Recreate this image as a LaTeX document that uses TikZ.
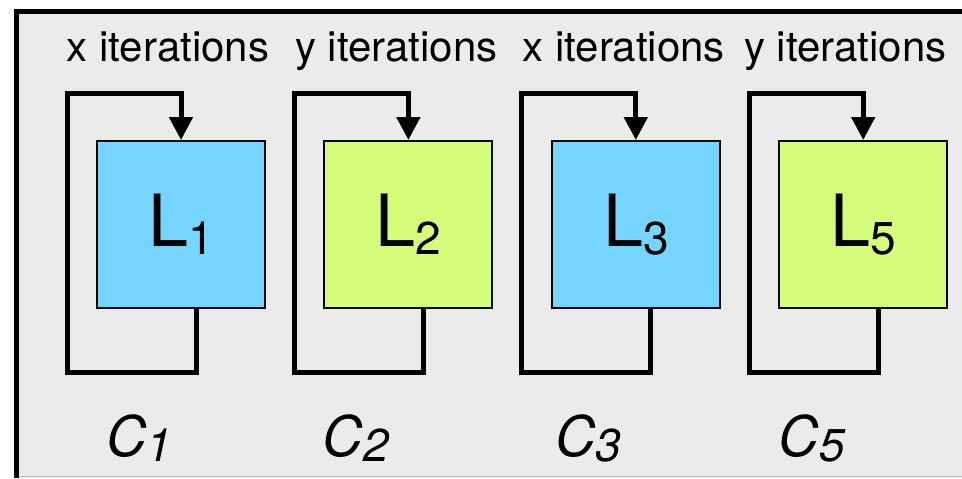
\documentclass[tikz,border=0pt]{standalone}
\usepackage{fontspec}
\setmainfont{TeX Gyre Heros}
\usetikzlibrary{arrows.meta, calc, positioning}

\definecolor{panelgray}{HTML}{EBEBEB}
\definecolor{loopblue}{HTML}{75D5FF}
\definecolor{loopgreen}{HTML}{D4FC7A}

% letter with a lowered, smaller index
\newcommand{\lsub}[3]{#1\raisebox{-#3}{\fontsize{23}{23}\selectfont #2}}

\begin{document}
\begin{tikzpicture}[x=0.5pt, y=0.5pt, node distance=28.7pt,
    layerbox/.style={draw=black, line width=1pt, minimum width=84pt, minimum height=83.5pt,
        inner sep=0pt, font=\fontsize{36}{36}\selectfont},
    feedback/.style={line width=2.5pt, line join=miter,
        -{Triangle[width=11.5pt,length=11.5pt]}},
    iters/.style={anchor=base, inner sep=0pt, font=\fontsize{21}{21}\selectfont},
    cname/.style={anchor=base west, inner sep=0pt, font=\fontsize{28}{28}\selectfont\itshape}]
            \useasboundingbox (0,0) rectangle (962,478);

            % Gray panel with its heavy left and top edge
            \fill[panelgray] (16.5,0) rectangle (962,466.5);
            \draw[black!25, line width=0.5pt] (16.5,1.3) -- (962,1.3);
            \draw[line width=2.5pt, line join=miter] (16.5,0) -- (16.5,466.5) -- (962,466.5);

            % The four loop bodies
            \node (L1) [layerbox, fill=loopblue] at (181,253.5) {\lsub{L}{1}{0.11em}};
            \node (L2) [layerbox, fill=loopgreen, right=of L1] {\lsub{L}{2}{0.11em}};
            \node (L3) [layerbox, fill=loopblue, right=of L2] {\lsub{L}{3}{0.11em}};
            \node (L5) [layerbox, fill=loopgreen, right=of L3] {\lsub{L}{5}{0.11em}};

            % Back edges: out of the bottom, round the left side, into the top
            \draw[feedback] ($(L1.south)+(15,0)$) -- ++(0,-63)
                -| ($(L1.north west)+(-29,47)$) -| (L1.north);
            \draw[feedback] ($(L2.south)+(15,0)$) -- ++(0,-63)
                -| ($(L2.north west)+(-29,47)$) -| (L2.north);
            \draw[feedback] ($(L3.south)+(15,0)$) -- ++(0,-63)
                -| ($(L3.north west)+(-29,47)$) -| (L3.north);
            \draw[feedback] ($(L5.south)+(15,0)$) -- ++(0,-63)
                -| ($(L5.north west)+(-29,47)$) -| (L5.north);

            % Trip counts above each loop
            \node (it1) [iters] at ($(L1.north)+(-13,79)$) {x iterations};
            \node (it2) [iters] at ($(L2.north)+(-12,79)$) {y iterations};
            \node (it3) [iters] at ($(L3.north)+(-12,79)$) {x iterations};
            \node (it5) [iters] at ($(L5.north)+(-18,79)$) {y iterations};

            % Names of the loops below
            \node (c1) [cname] at ($(L1.south west)+(10,-147)$) {\lsub{C}{1}{0.09em}};
            \node (c2) [cname] at ($(L2.south west)+(-1,-147)$) {\lsub{C}{2}{0.09em}};
            \node (c3) [cname] at ($(L3.south west)+(4,-147)$) {\lsub{C}{3}{0.09em}};
            \node (c5) [cname] at ($(L5.south west)+(0,-147)$) {\lsub{C}{5}{0.09em}};
        \end{tikzpicture}
\end{document}
